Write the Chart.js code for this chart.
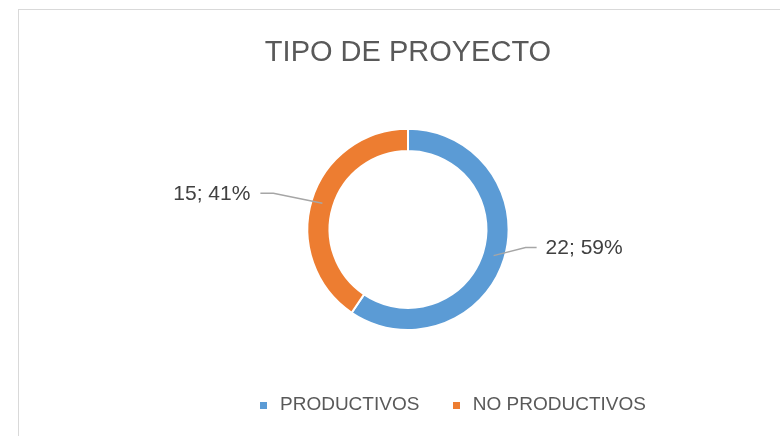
<!DOCTYPE html>
<html>
<head>
<meta charset="utf-8">
<script src="https://cdn.jsdelivr.net/npm/chart.js@4.4.0/dist/chart.umd.min.js"></script>
<style>
  html, body { margin: 0; padding: 0; background: #fff; }
  #wrap { position: relative; width: 780px; height: 436px; overflow: hidden; }
  #frame { position: absolute; left: 18px; top: 9px; width: 800px; height: 460px; border: 1px solid #d9d9d9; box-sizing: border-box; }
  #chart { position: absolute; left: 0; top: 0; }
</style>
</head>
<body>
<div id="wrap">
  <div id="frame"></div>
  <canvas id="chart" width="780" height="436"></canvas>
</div>
<script>
  const categories = ["PRODUCTIVOS", "NO PRODUCTIVOS"];
  const values = [22, 15];
  const sliceColors = ["#5B9BD5", "#ED7D31"];
  const chartTitle = "TIPO DE PROYECTO";

  // where each leader line bends and ends, relative to the slice's mid point
  const leaderStyle = [
    { elbowX: 32, elbowY: -8, tail: 11, gap: 9 },
    { elbowX: -49, elbowY: -10, tail: -13, gap: -10 }
  ];

  // legend sits a bit right of the doughnut, like in the excel original
  const legendPos = { left: 256.5, rowY: 405 };

  const total = values.reduce((a, b) => a + b, 0);

  const squareMarker = (color) => {
    const c = document.createElement("canvas");
    c.width = 7; c.height = 7;
    const g = c.getContext("2d");
    g.fillStyle = color;
    g.fillRect(0, 0, 7, 7);
    return c;
  };

  const sliceLabels = {
    id: "sliceLabels",
    afterDatasetsDraw(chart) {
      const ctx = chart.ctx;
      const arcs = chart.getDatasetMeta(0).data;
      ctx.save();
      ctx.font = "21px 'Liberation Sans', Arial, sans-serif";
      ctx.textBaseline = "middle";
      arcs.forEach((arc, i) => {
        const p = arc.getProps(["x", "y", "startAngle", "endAngle", "innerRadius", "outerRadius"], true);
        const mid = (p.startAngle + p.endAngle) / 2;
        const r = (p.innerRadius + p.outerRadius) / 2;
        const ax = p.x + Math.cos(mid) * r;
        const ay = p.y + Math.sin(mid) * r;
        const s = leaderStyle[i];
        const ex = ax + s.elbowX, ey = ay + s.elbowY;
        const tx = ex + s.tail;

        ctx.strokeStyle = "#A6A6A6";
        ctx.lineWidth = 1.5;
        ctx.beginPath();
        ctx.moveTo(ax, ay);
        ctx.lineTo(ex, ey);
        ctx.lineTo(tx, ey);
        ctx.stroke();

        const pct = Math.round(values[i] / total * 100);
        ctx.fillStyle = "#404040";
        ctx.textAlign = s.gap > 0 ? "left" : "right";
        ctx.fillText(values[i] + "; " + pct + "%", tx + s.gap, ey + 1);
      });
      ctx.restore();
    }
  };

  const moveLegend = {
    id: "moveLegend",
    beforeDraw(chart) {
      const lg = chart.legend;
      const hb = lg.legendHitBoxes[0];
      const dx = legendPos.left - hb.left;
      const dy = legendPos.rowY - (hb.top + hb.height / 2);
      lg.left += dx; lg.right += dx;
      lg.top += dy; lg.bottom += dy;
      lg.legendHitBoxes.forEach(b => { b.left += dx; b.top += dy; });
    }
  };

  new Chart(document.getElementById("chart"), {
    type: "doughnut",
    data: {
      labels: categories,
      datasets: [{
        data: values,
        backgroundColor: sliceColors,
        borderColor: "#ffffff",
        borderWidth: 2
      }]
    },
    options: {
      responsive: false,
      animation: false,
      cutout: "78%",
      layout: { padding: { left: 36, right: 0, top: 0, bottom: 46 } },
      plugins: {
        title: {
          display: true,
          text: chartTitle,
          color: "#595959",
          font: { family: "'Liberation Sans', Arial, sans-serif", size: 29, weight: "normal" },
          padding: { top: 36, bottom: 57 }
        },
        legend: {
          position: "bottom",
          labels: {
            color: "#595959",
            font: { family: "'Liberation Sans', Arial, sans-serif", size: 19 },
            usePointStyle: true,
            boxWidth: 14,
            boxHeight: 14,
            padding: 30,
            generateLabels(chart) {
              const items = Chart.overrides.doughnut.plugins.legend.labels.generateLabels(chart);
              return items.map(it => Object.assign(it, { lineWidth: 0, pointStyle: squareMarker(it.fillStyle) }));
            }
          }
        },
        tooltip: { enabled: false }
      }
    },
    plugins: [sliceLabels, moveLegend]
  });
</script>
</body>
</html>
